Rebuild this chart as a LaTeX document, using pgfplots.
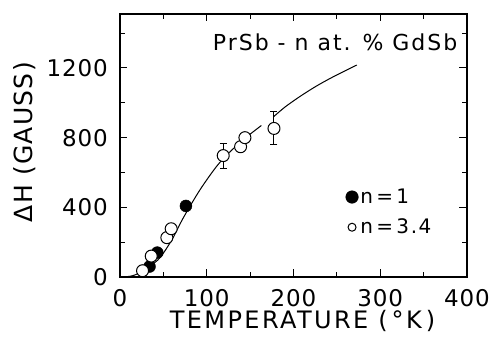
\documentclass[border=0pt]{standalone}
\usepackage{fontspec}
\setmainfont{DejaVu Sans}
\usepackage{pgfplots}
\pgfplotsset{compat=1.18}
\begin{document}
\begin{tikzpicture}
\path[use as bounding box] (-120pt,-60pt) rectangle (371pt,277pt);
\begin{axis}[
  at={(0pt,0pt)}, anchor=south west, scale only axis,
  width=347pt, height=263pt,
  xmin=0, xmax=400, ymin=0, ymax=1510,
  xtick={0,100,200,300,400}, minor xtick={50,150,250,350},
  ytick={0,400,800,1200}, minor ytick={200,600,1000,1400},
  xtick pos=both, ytick pos=both, tick align=inside,
  major tick length=7.5pt, minor tick length=5pt,
  axis line style={line width=1.3pt},
  every tick/.style={black, line width=1pt},
  /pgf/number format/assume math mode=true,
  tick label style={font=\fontsize{23}{25}\selectfont\addfontfeature{LetterSpace=4}, inner sep=0pt},
  xticklabels={0,100,200,300,400},
  xticklabel style={yshift=-12pt},
  yticklabel style={xshift=-12pt},
  yticklabels={0,400,800,1200},
  xlabel={\addfontfeature{LetterSpace=10}TEMPERATURE (\,°K\,)},
  xlabel style={font=\fontsize{24}{26}\selectfont, at={(axis description cs:0.526,-0.169)}, anchor=center},
  ylabel={\addfontfeature{LetterSpace=5}ΔH (GAUSS)},
  ylabel style={font=\fontsize{25}{27}\selectfont, at={(axis description cs:-0.274,0.513)}, anchor=center},
  legend style={at={(axis cs:260,518)}, anchor=north west, draw=none, fill=none,
    font=\fontsize{20}{22}\selectfont\addfontfeature{LetterSpace=8}, row sep=10pt, inner sep=0pt,
    /tikz/every even column/.append style={column sep=4pt}},
  legend cell align=left,
  legend image code/.code={\draw[#1] plot coordinates {(0pt,0pt)};},
]
\addplot[smooth, line width=1pt, forget plot] coordinates {
 (5,0) (15,8) (25,30) (35,65) (46,110) (60,215) (73,340) (92,499)
 (111,633) (125,710) (138,770) (150,820) (163,870)};
\addplot[smooth, line width=1pt, forget plot] coordinates {
 (177,920) (190,975) (207,1035) (226,1095) (246,1150) (273,1217)};
\addplot[only marks, mark=*, mark size=6pt, mark options={fill=black}, forget plot] coordinates {
 (34,60) (43,140) (76,408)};
\addplot[only marks, mark=*, mark size=6pt, mark options={fill=white, line width=1pt}, forget plot,
  error bars/.cd, y dir=both, y explicit,
  error bar style={line width=1pt},
  error mark options={rotate=90, mark size=3.5pt, line width=1pt}]
 coordinates {
 (26,36) +- (0,0)
 (36,120) +- (0,0)
 (54,226) +- (0,0)
 (59,277) +- (0,0)
 (119,697) +- (0,72)
 (139,748) +- (0,0)
 (144,800) +- (0,0)
 (177.5,853) +- (0,95)};
\addlegendimage{only marks, mark=*, mark size=6.3pt, fill=black}
\addlegendentry{n\,=\,1}
\addlegendimage{only marks, mark=o, mark size=4pt, line width=1pt}
\addlegendentry{n\,=\,3.4}
\node[font=\fontsize{22}{24}\selectfont\addfontfeature{LetterSpace=9}] at (axis cs:248,1349) {PrSb - n at. \% GdSb};
\end{axis}
\end{tikzpicture}
\end{document}
